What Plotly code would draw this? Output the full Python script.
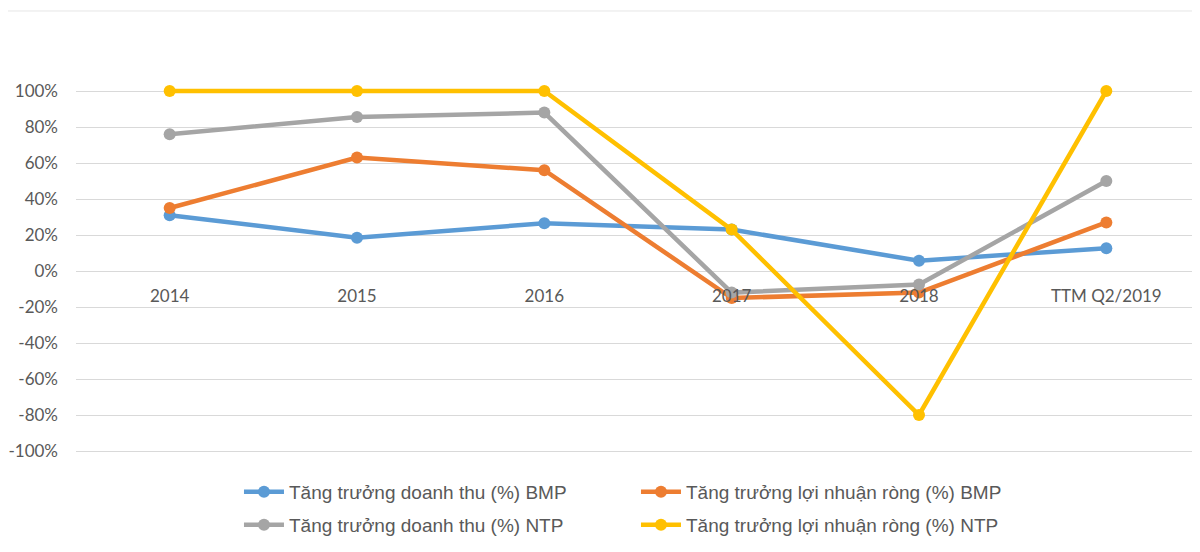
import plotly.graph_objects as go

categories = ["2014", "2015", "2016", "2017", "2018", "TTM Q2/2019"]
rev_bmp = [0.31, 0.185, 0.265, 0.23, 0.057, 0.127]
profit_bmp = [0.35, 0.63, 0.56, -0.15, -0.12, 0.27]
rev_ntp = [0.76, 0.855, 0.88, -0.12, -0.075, 0.50]
profit_ntp = [1.00, 1.00, 1.00, 0.23, -0.80, 1.00]

series_names = [
    "Tăng trưởng doanh thu (%) BMP",
    "Tăng trưởng lợi nhuận ròng (%) BMP",
    "Tăng trưởng doanh thu (%) NTP",
    "Tăng trưởng lợi nhuận ròng (%) NTP",
]
colors = ["#5B9BD5", "#ED7D31", "#A5A5A5", "#FFC000"]
legend_ids = ["legend", "legend", "legend2", "legend2"]
y_ticks = [-1.0, -0.8, -0.6, -0.4, -0.2, 0.0, 0.2, 0.4, 0.6, 0.8, 1.0]
y_tick_labels = ["-100%", "-80%", "-60%", "-40%", "-20%", "0%", "20%", "40%", "60%", "80%", "100%"]

fig = go.Figure()
for name, vals, col, lg in zip(series_names, [rev_bmp, profit_bmp, rev_ntp, profit_ntp], colors, legend_ids):
    fig.add_trace(go.Scatter(
        x=categories, y=vals, name=name, mode="lines+markers",
        line=dict(color=col, width=4.5),
        marker=dict(color=col, size=12),
        cliponaxis=False, legend=lg,
    ))

legend_font = dict(family="Liberation Sans, Arial, sans-serif", size=19, color="#595959")
tick_font = dict(family="Lato, Open Sans, sans-serif", size=17, color="#595959")

fig.update_layout(
    width=1192, height=544,
    margin=dict(l=65, r=0, t=65, b=83),
    paper_bgcolor="white", plot_bgcolor="white",
    showlegend=True,
    legend=dict(
        orientation="h", x=0.145, xanchor="left", y=-0.058, yanchor="middle",
        entrywidth=342, entrywidthmode="pixels", itemwidth=40,
        font=legend_font,
    ),
    legend2=dict(
        orientation="h", x=0.145, xanchor="left", y=-0.1414, yanchor="middle",
        entrywidth=342, entrywidthmode="pixels", itemwidth=40,
        font=legend_font,
    ),
    xaxis=dict(
        type="category", range=[-0.5, 5.5],
        anchor="free", position=0.5,
        showgrid=False, showline=False, zeroline=False,
        ticks="outside", ticklen=10, tickcolor="rgba(0,0,0,0)",
        tickfont=tick_font,
    ),
    yaxis=dict(
        range=[-1.1, 1.1], tickvals=y_ticks, ticktext=y_tick_labels,
        showgrid=True, gridcolor="#D9D9D9", gridwidth=1,
        zeroline=False, showline=False, ticks="",
        ticklabelstandoff=17,
        tickfont=tick_font,
    ),
    shapes=[dict(type="line", xref="paper", yref="paper", x0=-0.07, x1=1.0,
                 y0=1.1566, y1=1.1566, line=dict(color="#E6E6E6", width=1))],
)

fig.write_html("out.html")
